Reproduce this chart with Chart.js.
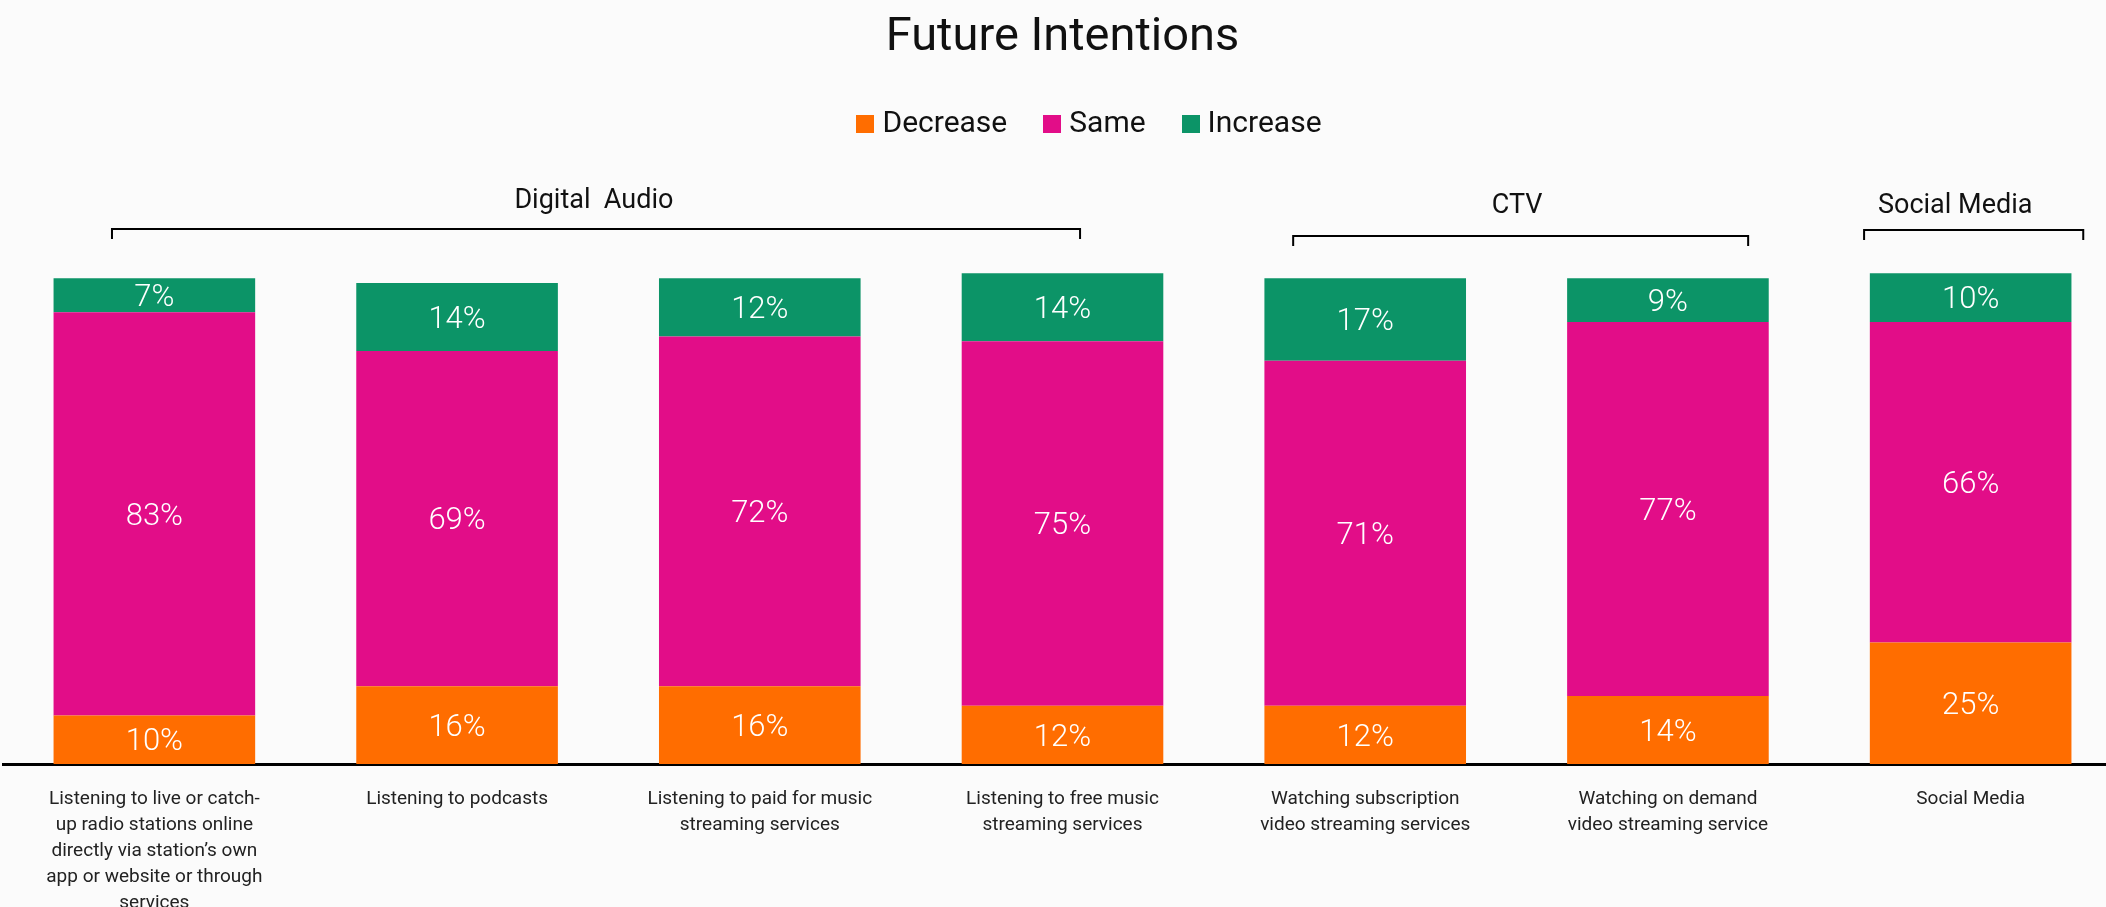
<!DOCTYPE html>
<html>
<head>
<meta charset="utf-8">
<script src="https://cdn.jsdelivr.net/npm/chart.js@4"></script>
<style>
  html, body { margin: 0; padding: 0; background: #fbfbfb; overflow: hidden; }
  #wrap { width: 2122px; height: 907px; }
</style>
</head>
<body>
<div id="wrap"><canvas id="intentionsChart" width="2122" height="907"></canvas></div>
<script>
// categories and values (percent)
const categories = [
  ["Listening to live or catch-", "up radio stations online", "directly via station\u2019s own", "app or website or through", "services"],
  "Listening to podcasts",
  ["Listening to paid for music", "streaming services"],
  ["Listening to free music", "streaming services"],
  ["Watching subscription", "video streaming services"],
  ["Watching on demand", "video streaming service"],
  "Social Media"
];
const decreaseValues = [10, 16, 16, 12, 12, 14, 25];
const sameValues = [83, 69, 72, 75, 71, 77, 66];
const increaseValues = [7, 14, 12, 14, 17, 9, 10];

const seriesNames = ["Decrease", "Same", "Increase"];
const seriesColors = ["#ff6d00", "#e20d88", "#0c9467"];

// groups over the bars
const groupNames = ["Digital  Audio", "CTV", "Social Media"];

const FONT = "Roboto, 'Liberation Sans', Arial, sans-serif";

// small square swatches for the legend
function swatch(color) {
  const c = document.createElement("canvas");
  c.width = 18;
  c.height = 18;
  const g = c.getContext("2d");
  g.fillStyle = color;
  g.fillRect(0, 0, 18, 18);
  return c;
}
const swatches = seriesColors.map(swatch);

// percentages written inside each segment
const segmentLabels = {
  id: "segmentLabels",
  afterDatasetsDraw(chart) {
    const ctx = chart.ctx;
    ctx.save();
    ctx.fillStyle = "#ffffff";
    ctx.font = "300 31px " + FONT;
    ctx.textAlign = "center";
    ctx.textBaseline = "middle";
    chart.data.datasets.forEach((ds, di) => {
      const meta = chart.getDatasetMeta(di);
      meta.data.forEach((bar, i) => {
        const v = ds.data[i];
        ctx.fillText(v + "%", bar.x, (bar.y + bar.base) / 2 + 3);
      });
    });
    ctx.restore();
  }
};

// brackets and group names above the bars
const groupBrackets = {
  id: "groupBrackets",
  afterDraw(chart, args, opts) {
    const ctx = chart.ctx;
    const x = chart.scales.x;
    ctx.save();
    ctx.strokeStyle = "#000";
    ctx.lineWidth = 2;
    ctx.fillStyle = "#111";
    ctx.font = "27px " + FONT;
    ctx.textAlign = "center";
    ctx.textBaseline = "alphabetic";
    opts.groups.forEach((g, i) => {
      const x1 = x.getPixelForValue(g.from);
      const x2 = x.getPixelForValue(g.to);
      ctx.beginPath();
      ctx.moveTo(x1, g.lineY + 10);
      ctx.lineTo(x1, g.lineY);
      ctx.lineTo(x2, g.lineY);
      ctx.lineTo(x2, g.lineY + 10);
      ctx.stroke();
      ctx.fillText(groupNames[i], x.getPixelForValue(g.textAt), g.textY);
    });
    ctx.restore();
  }
};

// nudge the legend to where the original has it
const legendShift = {
  id: "legendShift",
  afterLayout(chart, args, opts) {
    chart.legend.left += opts.dx;
    chart.legend.right += opts.dx;
  }
};

new Chart(document.getElementById("intentionsChart").getContext("2d"), {
  type: "bar",
  data: {
    labels: categories,
    datasets: [
      { label: seriesNames[0], data: decreaseValues, backgroundColor: seriesColors[0] },
      { label: seriesNames[1], data: sameValues, backgroundColor: seriesColors[1] },
      { label: seriesNames[2], data: increaseValues, backgroundColor: seriesColors[2] }
    ]
  },
  options: {
    responsive: false,
    animation: false,
    layout: { padding: { left: 3, right: 0, top: 0, bottom: 0 } },
    datasets: {
      bar: { barPercentage: 0.666, categoryPercentage: 1, borderWidth: 0 }
    },
    plugins: {
      title: {
        display: true,
        text: "Future Intentions",
        color: "#111",
        font: { family: FONT, size: 47, weight: "normal", lineHeight: 1.2 },
        padding: { top: 10, bottom: 0 }
      },
      legend: {
        display: true,
        labels: {
          color: "#111",
          font: { family: FONT, size: 30 },
          usePointStyle: true,
          pointStyleWidth: 4,
          padding: 43,
          generateLabels(chart) {
            const items = Chart.defaults.plugins.legend.labels.generateLabels(chart);
            items.forEach((it, i) => { it.pointStyle = swatches[i]; });
            return items;
          }
        }
      },
      tooltip: { enabled: false },
      legendShift: { dx: 30 },
      groupBrackets: {
        groups: [
          { from: -0.14, to: 3.058, lineY: 229, textAt: 1.452, textY: 208 },
          { from: 3.762, to: 5.265, lineY: 236, textAt: 4.502, textY: 213 },
          { from: 5.648, to: 6.372, lineY: 230, textAt: 5.949, textY: 213 }
        ]
      }
    },
    scales: {
      x: {
        stacked: true,
        grid: { display: false },
        border: { display: true, color: "#000", width: 3 },
        ticks: {
          color: "#222",
          font: { family: FONT, size: 19, lineHeight: 1.37 },
          padding: 14,
          maxRotation: 0,
          autoSkip: false
        },
        afterFit(scale) { scale.height = 143; }
      },
      y: {
        stacked: true,
        display: false,
        min: 0,
        max: 126.5
      }
    }
  },
  plugins: [segmentLabels, groupBrackets, legendShift]
});
</script>
</body>
</html>
